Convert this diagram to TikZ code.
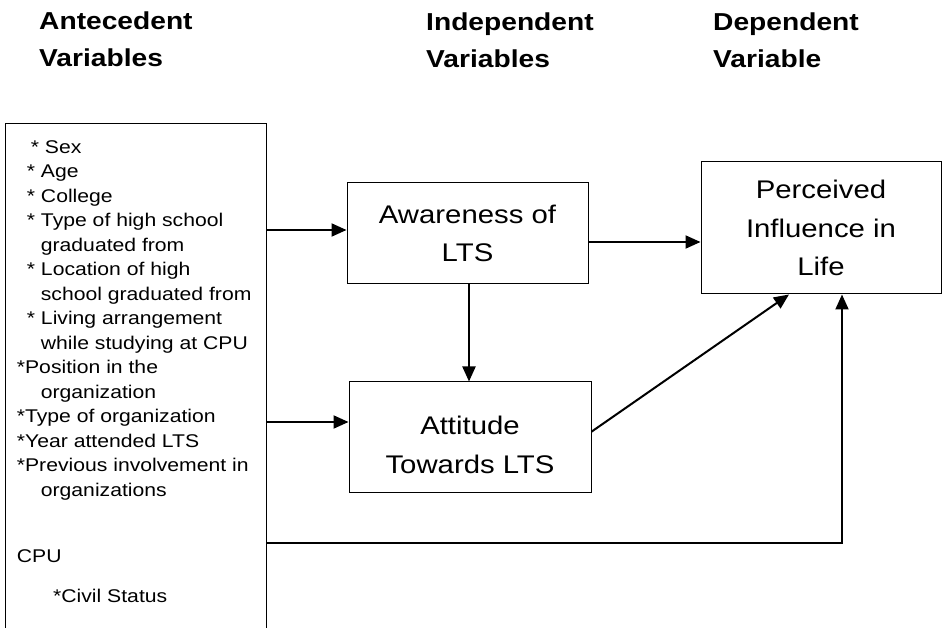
\documentclass[tikz,border=0pt]{standalone}
\usepackage{fontspec}
\setmainfont{Liberation Sans}[FakeStretch=1.15]
\usetikzlibrary{arrows.meta,calc}
\tikzset{
  boxnode/.style={draw=black, line width=1pt, inner sep=0pt, align=center,
    font=\fontsize{25.5}{38.3}\selectfont},
  hdrtext/.style={anchor=north west, inner sep=0pt, align=left,
    font=\bfseries\fontsize{24.5}{37.5}\selectfont},
  listtext/.style={inner sep=0pt, font=\fontsize{18.4}{24.5}\selectfont},
  conn/.style={line width=2pt, -{Triangle[length=15pt,width=13pt]}},
  plainline/.style={line width=2pt}
}
\begin{document}
\begin{tikzpicture}[x=1pt,y=-1pt]
\useasboundingbox (0,0) rectangle (943,628);
% headers
\node[hdrtext] (hA) at (39,11.4) {Antecedent\\Variables};
\node[hdrtext] (hI) at (426,12.4) {Independent\\Variables};
\node[hdrtext] (hD) at (713,12.4) {Dependent\\Variable};
% antecedent box (open below the page edge)
\node[draw=black, line width=1pt, anchor=north west, inner sep=0pt,
      minimum width=261pt, minimum height=530pt] (ante) at (5,122.7) {};
\node[listtext, anchor=north west, align=left] (list) at (16.7,140) {%
\hspace*{14pt}* Sex\\
\hspace*{10pt}* Age\\
\hspace*{10pt}* College\\
\hspace*{10pt}* Type of high school\\
\hspace*{24pt}graduated from\\
\hspace*{10pt}* Location of high\\
\hspace*{24pt}school graduated from\\
\hspace*{10pt}* Living arrangement\\
\hspace*{24pt}while studying at CPU\\
*Position in the\\
\hspace*{24pt}organization\\
*Type of organization\\
*Year attended LTS\\
*Previous involvement in\\
\hspace*{24pt}organizations};
\node[listtext, anchor=base west] (cpu) at (16.7,562) {CPU};
\node[listtext, anchor=base west] (civil) at (53,602) {*Civil Status};
% boxes
\node[boxnode, minimum width=241pt, minimum height=101pt] (aware) at (467.5,233.5) {Awareness of\\LTS};
\node[boxnode, minimum width=242pt, minimum height=110pt] (att) at (470,437) {};
\node[inner sep=0pt, align=center, font=\fontsize{25.5}{38.3}\selectfont] (atttxt) at (470,445) {Attitude\\Towards LTS};
\node[boxnode, minimum width=240pt, minimum height=132pt] (percv) at (821,228) {Perceived\\Influence in\\Life};
% connectors
\coordinate (a1) at ([yshift=3.5pt]aware.west);
\draw[conn] (a1 -| ante.east) -- (a1);
\coordinate (a2) at ([yshift=15pt]att.west);
\draw[conn] (a2 -| ante.east) -- (a2);
\coordinate (a3) at ([yshift=-8.5pt]aware.east);
\draw[conn] (a3) -- (a3 -| percv.west);
\coordinate (a4) at ([xshift=1.5pt]aware.south);
\draw[conn] (a4) -- (a4 |- att.north);
\coordinate (a5) at ([yshift=5.3pt]att.east);
\draw[conn] (a5) -- ([xshift=-32pt]percv.south);
\coordinate (lowy) at (0,543);
\coordinate (c1) at ([xshift=21pt]percv.south);
\draw[conn] (ante.east |- lowy) -- (c1 |- lowy) -- (c1);
\end{tikzpicture}
\end{document}
